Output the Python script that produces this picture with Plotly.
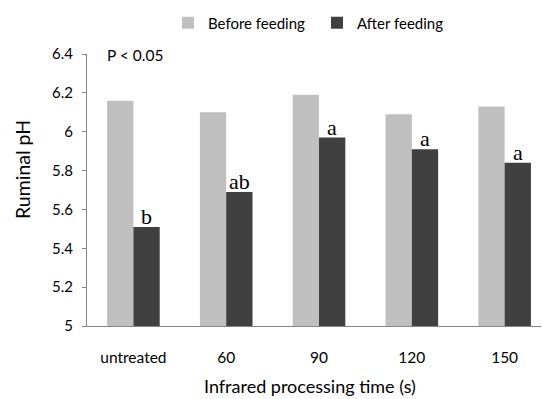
import plotly.graph_objects as go

categories = ["untreated", "60", "90", "120", "150"]
before_feeding = [6.16, 6.10, 6.19, 6.09, 6.13]
after_feeding = [5.51, 5.69, 5.97, 5.91, 5.84]
after_letters = ["b", "ab", "a", "a", "a"]
y_tick_vals = [5.0, 5.2, 5.4, 5.6, 5.8, 6.0, 6.2, 6.4]
y_tick_text = ["5", "5.2", "5.4", "5.6", "5.8", "6", "6.2", "6.4"]

SANS = "Lato, 'Open Sans', sans-serif"
SERIF = "'Liberation Serif', 'DejaVu Serif', serif"

fig = go.Figure()
fig.add_trace(go.Bar(name="Before feeding", x=categories, y=before_feeding,
                     marker=dict(color="#BFBFBF", line=dict(width=0))))
fig.add_trace(go.Bar(name="After feeding", x=categories, y=after_feeding,
                     marker=dict(color="#404040", line=dict(width=0))))

for i, (v, t) in enumerate(zip(after_feeding, after_letters)):
    fig.add_annotation(x=i, y=v, text=t, showarrow=False, xref="x", yref="y",
                       xshift=13, yanchor="bottom", yshift=-4,
                       font=dict(family=SERIF, size=22, color="#000000"))

fig.add_annotation(x=105, y=55, xref="paper", yref="paper", text="P < 0.05",
                   showarrow=False, xanchor="left", yanchor="middle",
                   font=dict(family=SANS, size=15.5, color="#000000"))

# axis titles (placed as in the reference)
fig.add_annotation(x=22, y=170, xref="paper", yref="paper", text="Ruminal pH",
                   textangle=-90, showarrow=False, xanchor="center", yanchor="middle",
                   font=dict(family=SANS, size=19.5, color="#000000"))
fig.add_annotation(x=310, y=386, xref="paper", yref="paper",
                   text="Infrared processing time (s)",
                   showarrow=False, xanchor="center", yanchor="middle",
                   font=dict(family=SANS, size=18, color="#000000"))

W, H = 542, 399
ML, MR, MT, MB = 87, 1, 54, 73
pw, ph = W - ML - MR, H - MT - MB
# convert pixel placements of the free annotations to paper coords
for ann in fig.layout.annotations:
    if ann.xref == "paper":
        ann.x = (ann.x - ML) / pw
        ann.y = (H - MB - ann.y) / ph

fig.update_layout(
    width=W, height=H,
    margin=dict(l=ML, r=MR, t=MT, b=MB),
    paper_bgcolor="white", plot_bgcolor="white",
    barmode="group", bargap=0.433, bargroupgap=0.0,
    font=dict(family=SANS, size=15, color="#000000"),
    showlegend=True,
    legend=dict(orientation="h", x=(168 - ML) / pw, xanchor="left",
                y=(H - MB - 23) / ph, yanchor="middle",
                font=dict(family=SANS, size=15, color="#000000"),
                itemwidth=30, entrywidth=104, entrywidthmode="pixels",
                bgcolor="rgba(0,0,0,0)"),
    xaxis=dict(type="category", range=[-0.5, 4.392], showline=True,
               linecolor="#868686", linewidth=1,
               ticks="outside", ticklen=17, tickcolor="rgba(0,0,0,0)",
               showgrid=False,
               tickfont=dict(family=SANS, size=15.5, color="#000000")),
    yaxis=dict(range=[5, 6.4], tickvals=y_tick_vals, ticktext=y_tick_text,
               showline=True, linecolor="#868686", linewidth=1,
               ticks="outside", ticklen=4, tickcolor="#868686",
               ticklabelstandoff=6,
               showgrid=False, zeroline=False,
               tickfont=dict(family=SANS, size=15, color="#000000")),
)

fig.write_html("out.html")
